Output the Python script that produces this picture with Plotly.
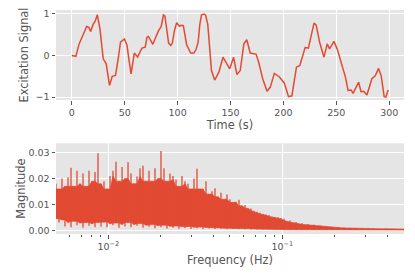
import plotly.graph_objects as go
from plotly.subplots import make_subplots

# ---- top panel data: excitation signal ----
time_s = [0, 3.8, 6.9, 10, 12, 14, 16, 17.8, 20.3, 22, 24.1, 26.6, 28, 29.7, 32.5, 35.6, 38.2, 41.3, 44, 46,
          49.7, 52.2, 54, 56, 59.1, 62.2, 64, 66.3, 69.4, 71, 72.5, 74.5, 76.6, 79, 82, 84.5, 86.6, 88, 89.8, 91.5,
          93.5, 95, 97, 99.1, 101.6, 104, 105.4, 107, 108.5, 112.3, 115.4, 117.5, 119.4, 121, 122.6, 125, 126.4, 128.5, 130.4, 132,
          135, 139, 142.9, 145.4, 149.2, 152.9, 156, 159.2, 162.6, 165.4, 168.6, 171, 174.2, 176.6, 180.4, 184.5, 187.6, 191.4, 196, 200.8,
          204.8, 208, 212.3, 215.5, 220.5, 223.6, 226, 228.9, 231, 234.2, 238.3, 241.4, 243.6, 247.7, 250.8, 255.5, 258.6, 261.1, 264, 265.8,
          268, 271.1, 273.3, 275.8, 278.9, 283.6, 286.8, 289.9, 292.4, 295.2, 296.8, 299]
signal = [0, -0.02, 0.28, 0.44, 0.58, 0.70, 0.68, 0.58, 0.76, 0.82, 0.98, 0.64, 0.25, -0.08, -0.20, -0.72, -0.50, -0.48, -0.05, 0.32,
          0.40, 0.24, -0.10, -0.44, 0.06, -0.04, 0.06, 0.18, 0.20, 0.44, 0.46, 0.36, 0.27, 0.42, 0.60, 0.70, 0.98, 0.95, 0.64, 0.30,
          0.24, 0.30, 0.60, 0.79, 0.71, 0.73, 0.72, 0.50, 0.26, 0.06, 0.06, 0.15, 0.32, 0.75, 0.98, 1.00, 0.97, 0.75, 0.05, -0.36,
          -0.59, -0.40, -0.04, -0.16, -0.32, -0.04, -0.46, -0.36, 0.28, 0.38, 0.06, 0.05, 0.03, -0.16, -0.56, -0.86, -0.76, -0.43, -0.51, -0.66,
          -0.99, -0.97, -0.28, -0.24, 0.19, 0.18, 0.45, 0.78, 0.73, 0.32, -0.04, 0.28, 0.16, 0.34, 0.16, -0.28, -0.52, -0.84, -0.83, -0.91,
          -0.80, -0.64, -0.87, -0.86, -0.95, -0.56, -0.49, -0.31, -0.49, -0.99, -1.00, -0.83]

# ---- bottom panel data: FFT magnitude (peak / trough of the dense spectrum) ----
freq_hz = [0.005000, 0.005203, 0.005413, 0.005633, 0.005861, 0.006098, 0.006345, 0.006602, 0.006869, 0.007148,
           0.007437, 0.007738, 0.008052, 0.008378, 0.008717, 0.009070, 0.009437, 0.009820, 0.01022, 0.01063,
           0.01106, 0.01151, 0.01198, 0.01246, 0.01297, 0.01349, 0.01404, 0.01461, 0.01520, 0.01581,
           0.01645, 0.01712, 0.01781, 0.01853, 0.01928, 0.02006, 0.02088, 0.02172, 0.02260, 0.02352,
           0.02447, 0.02546, 0.02649, 0.02756, 0.02868, 0.02984, 0.03105, 0.03231, 0.03362, 0.03498,
           0.03639, 0.03787, 0.03940, 0.04100, 0.04266, 0.04438, 0.04618, 0.04805, 0.05000, 0.05203,
           0.05413, 0.05633, 0.05861, 0.06098, 0.06345, 0.06602, 0.06869, 0.07148, 0.07437, 0.07738,
           0.08052, 0.08378, 0.08717, 0.09070, 0.09437, 0.09820,
           0.1022, 0.1106, 0.1198, 0.1297, 0.1404, 0.1520, 0.1645, 0.1781, 0.1928, 0.2088,
           0.2260, 0.2447, 0.2649, 0.2868, 0.3105, 0.3362, 0.3639, 0.3940, 0.4266, 0.4618, 0.5000]
mag_high = [0.0180, 0.0160, 0.0200, 0.0170, 0.0205, 0.0242, 0.0170, 0.0230, 0.0180, 0.0220,
            0.0170, 0.0230, 0.0190, 0.0225, 0.0298, 0.0180, 0.0190, 0.0160, 0.0210, 0.0230,
            0.0265, 0.0190, 0.0245, 0.0200, 0.0263, 0.0220, 0.0180, 0.0208, 0.0240, 0.0250,
            0.0190, 0.0230, 0.0190, 0.0240, 0.0200, 0.0307, 0.0240, 0.0190, 0.0220, 0.0210,
            0.0196, 0.0170, 0.0210, 0.0190, 0.0180, 0.0160, 0.0200, 0.0238, 0.0160, 0.0160,
            0.0190, 0.0140, 0.0151, 0.0163, 0.0130, 0.0145, 0.0120, 0.0138, 0.0120, 0.0108,
            0.0110, 0.0118, 0.0095, 0.0098, 0.0086, 0.0084, 0.0076, 0.0072, 0.0068, 0.0064,
            0.0060, 0.0059, 0.0053, 0.0051, 0.0050, 0.0047,
            0.0045, 0.0038, 0.0032, 0.0027, 0.0023, 0.0021, 0.0019, 0.0015, 0.0013, 0.0012,
            0.0011, 0.0009, 0.0009, 0.0008, 0.0007, 0.0007, 0.0006, 0.0006, 0.0006, 0.0005, 0.0005]
mag_low = [0.0045, 0.0030, 0.0040, 0.0015, 0.0030, 0.0012, 0.0035, 0.0020, 0.0028, 0.0010,
           0.0030, 0.0018, 0.0025, 0.0012, 0.0030, 0.0015, 0.0032, 0.0012, 0.0025, 0.0020,
           0.0028, 0.0010, 0.0022, 0.0015, 0.0030, 0.0012, 0.0022, 0.0018, 0.0026, 0.0010,
           0.0020, 0.0014, 0.0022, 0.0008, 0.0018, 0.0012, 0.0020, 0.0007, 0.0016, 0.0010,
           0.0017, 0.0006, 0.0014, 0.0009, 0.0015, 0.0005, 0.0012, 0.0008, 0.0013, 0.0005,
           0.0011, 0.0007, 0.0010, 0.0005, 0.0009, 0.0006, 0.0008, 0.0004, 0.0008, 0.0005,
           0.0007, 0.0004, 0.0006, 0.0004, 0.0006, 0.0003, 0.0005, 0.0003, 0.0005, 0.0003,
           0.0004, 0.0003, 0.0004, 0.0002, 0.0003, 0.0002,
           0.0002, 0.0002, 0.0002, 0.0002, 0.0002, 0.0001, 0.0002, 0.0001, 0.0001, 0.0001,
           0.0001, 0.0001, 0.0001, 0.0001, 0.0001, 0.0001, 0.0001, 0.0001, 0.0001, 0.0001, 0.0001]

RED = "#E24A33"
GREY = "#555555"
FONT = "DejaVu Sans"

n = len(freq_hz)
# solid body of the spectrum: local min of peaks / local max of troughs
body_top = [min(mag_high[max(i - 1, 0):i + 2]) for i in range(n)]
body_bot = [max(mag_low[max(i - 1, 0):i + 2]) for i in range(n)]
# needles from trough to peak at each frequency
needle_x, needle_y = [], []
for f, lo, hi in zip(freq_hz, mag_low, mag_high):
    needle_x += [f, f, None]
    needle_y += [lo, hi, None]

fig = make_subplots(rows=2, cols=1, vertical_spacing=0.0)

fig.add_trace(go.Scatter(x=time_s, y=signal, mode="lines",
                         line=dict(color=RED, width=1.5), showlegend=False), row=1, col=1)

fig.add_trace(go.Scatter(x=freq_hz, y=body_bot, mode="lines",
                         line=dict(color=RED, width=0.6), showlegend=False), row=2, col=1)
fig.add_trace(go.Scatter(x=freq_hz, y=body_top, mode="lines", fill="tonexty",
                         fillcolor=RED, line=dict(color=RED, width=0.6), showlegend=False), row=2, col=1)
fig.add_trace(go.Scatter(x=needle_x, y=needle_y, mode="lines", connectgaps=False,
                         line=dict(color=RED, width=1.3), showlegend=False), row=2, col=1)

axis_common = dict(showline=False, zeroline=False, gridcolor="white", gridwidth=1,
                   ticks="outside", ticklen=3.5, tickcolor=GREY, tickwidth=1, automargin=False,
                   tickfont=dict(family=FONT, size=9.5, color=GREY))

fig.update_xaxes(**axis_common, row=1, col=1, range=[-14.95, 313.95],
                 tickvals=[0, 50, 100, 150, 200, 250, 300],
                 title=dict(text="Time (s)", font=dict(family=FONT, size=11.4, color=GREY), standoff=4))
fig.update_yaxes(**axis_common, row=1, col=1, range=[-1.072, 1.096], tickvals=[-1, 0, 1],
                 title=dict(text="Excitation Signal", font=dict(family=FONT, size=11.4, color=GREY), standoff=4))

fig.update_xaxes(**axis_common, row=2, col=1, type="log", range=[-2.301, -0.301],
                 tickvals=[0.01, 0.1], ticktext=["10<sup>−2</sup>", "10<sup>−1</sup>"],
                 minor=dict(ticks="outside", ticklen=2, tickcolor=GREY, showgrid=False,
                            tickvals=[0.006, 0.007, 0.008, 0.009, 0.02, 0.03, 0.04, 0.05, 0.06, 0.07, 0.08, 0.09,
                                      0.2, 0.3, 0.4]),
                 title=dict(text="Frequency (Hz)", font=dict(family=FONT, size=11.4, color=GREY), standoff=5))
fig.update_yaxes(**axis_common, row=2, col=1, range=[-0.00143, 0.03364],
                 tickvals=[0, 0.01, 0.02, 0.03], ticktext=["0.00", "0.01", "0.02", "0.03"],
                 title=dict(text="Magnitude", font=dict(family=FONT, size=11.4, color=GREY), standoff=0))

# page body has an 8 px default margin, so the figure is sized/offset to land the plot areas in place
fig.update_layout(
    width=407, height=269,
    margin=dict(l=48, r=11, t=2, b=43),
    paper_bgcolor="white", plot_bgcolor="#E5E5E5",
    font=dict(family=FONT, color=GREY),
    xaxis=dict(domain=[0, 1]), xaxis2=dict(domain=[0, 1]),
    yaxis=dict(domain=[0.598, 1.0]), yaxis2=dict(domain=[0.0, 0.405]),
)

fig.write_html("out.html")
